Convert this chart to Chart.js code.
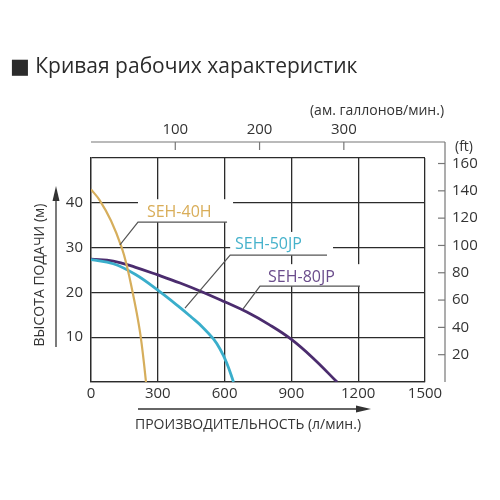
<!DOCTYPE html>
<html>
<head>
<meta charset="utf-8">
<script src="https://cdn.jsdelivr.net/npm/chart.js@4.4.1/dist/chart.umd.min.js"></script>
<style>
  html, body { margin: 0; padding: 0; background: #fff; }
  #wrap { width: 500px; height: 500px; }
</style>
</head>
<body>
<div id="wrap"><canvas id="pumpChart"></canvas></div>
<script>
// flow, l/min (bottom axis)
const flowTicks = [0, 300, 600, 900, 1200, 1500];
// head, m (left axis)
const headTicks = [0, 10, 20, 30, 40, 50];
// US gallons per minute (top axis)
const galTicks = [100, 200, 300];
// head in feet (right axis)
const ftTicks = [20, 40, 60, 80, 100, 120, 140, 160];

const curveNames = ["SEH-40H", "SEH-50JP", "SEH-80JP"];

const seh40hFlow = [0, 40, 90, 138, 163, 185, 205, 222, 236, 247];
const seh40hHead = [43, 40.5, 36, 30, 25.5, 20.5, 15.5, 10.5, 5, 0];

const seh50jpFlow = [0, 100, 200, 300, 400, 450, 500, 550, 580, 610, 640];
const seh50jpHead = [27.3, 26.4, 24.0, 20.5, 16.6, 14.5, 12.3, 9.6, 7.3, 4.2, 0];

const seh80jpFlow = [0, 100, 200, 300, 400, 500, 600, 700, 800, 900, 1000, 1105];
const seh80jpHead = [27.4, 27.0, 25.6, 23.9, 22.1, 20.1, 17.9, 15.6, 12.8, 9.5, 5.2, 0];

// where each curve name sits (flow, head) and its leader line
const labelSpots = [
  { at: [251, 37.9], leader: [[130, 30.6], [211, 35.7], [611, 35.7]] },
  { at: [647, 30.6], leader: [[422, 16.5], [625, 28.3], [1060, 28.3]] },
  { at: [795, 23.4], leader: [[683, 16.3], [759, 21.4], [1208, 21.4]] }
];

const LITRES_PER_GAL = 3.785;
const M_PER_FT = 0.3048;

const lineColors = ["#d6ae5c", "#3aaecb", "#4b2c6e"];
const textColors = ["#d9ad58", "#46b2cb", "#6b4d8c"];

function toPoints(xs, ys) {
  let pts = [];
  for (let i = 0; i < xs.length; i += 1) {
    pts.push({ x: xs[i], y: ys[i] });
  }
  return pts;
}

const FONT = "'Open Sans', 'DejaVu Sans', sans-serif";
const INK = "#333";

const decorPlugin = {
  id: "decor",
  afterDatasetsDraw(chart) {
    const { ctx, chartArea: area, scales } = chart;
    const x = scales.x, y = scales.y, x2 = scales.x2, y2 = scales.y2;
    ctx.save();

    // curve names with leaders
    labelSpots.forEach((spot, i) => {
      const pts = spot.leader.map(p => [x.getPixelForValue(p[0]), y.getPixelForValue(p[1])]);
      const tx = x.getPixelForValue(spot.at[0]);
      const ty = y.getPixelForValue(spot.at[1]);
      ctx.fillStyle = "#fff";
      ctx.fillRect(pts[1][0], ty - 13, pts[2][0] - pts[1][0] + 6, pts[1][1] - ty + 13);

      ctx.strokeStyle = "#555";
      ctx.lineWidth = 1.2;
      ctx.beginPath();
      ctx.moveTo(pts[0][0], pts[0][1]);
      ctx.lineTo(pts[1][0], pts[1][1]);
      ctx.lineTo(pts[2][0], pts[2][1]);
      ctx.stroke();

      ctx.fillStyle = textColors[i];
      ctx.font = "16px " + FONT;
      ctx.textAlign = "left";
      ctx.textBaseline = "middle";
      ctx.fillText(curveNames[i], tx, ty);
    });

    // top axis: US gallons / min, right axis: feet
    const topY = area.top - 16;
    const rightX = area.right + 20;
    ctx.strokeStyle = "#777";
    ctx.lineWidth = 1.2;
    ctx.beginPath();
    ctx.moveTo(area.left, topY);
    ctx.lineTo(rightX, topY);
    ctx.moveTo(rightX, topY);
    ctx.lineTo(rightX, area.bottom);
    ctx.stroke();

    ctx.fillStyle = INK;
    ctx.font = "15px " + FONT;
    ctx.textAlign = "center";
    ctx.textBaseline = "middle";
    galTicks.forEach(v => {
      const px = x2.getPixelForValue(v);
      ctx.beginPath();
      ctx.moveTo(px, topY);
      ctx.lineTo(px, topY + 8);
      ctx.stroke();
      ctx.fillText(String(v), px, topY - 12);
    });
    ctx.font = "14px " + FONT;
    ctx.fillText("(ам. галлонов/мин.)", 377, topY - 31);

    ctx.font = "15px " + FONT;
    ctx.textAlign = "left";
    ftTicks.forEach(v => {
      const py = y2.getPixelForValue(v);
      ctx.beginPath();
      ctx.moveTo(rightX - 7, py);
      ctx.lineTo(rightX, py);
      ctx.stroke();
      ctx.fillText(String(v), rightX + 7, py);
    });
    ctx.font = "14px " + FONT;
    ctx.fillText("(ft)", rightX + 10, topY + 5);

    // axis titles with arrows
    ctx.strokeStyle = INK;
    ctx.fillStyle = INK;
    ctx.lineWidth = 1.3;
    const ax = area.left - 35;
    ctx.beginPath();
    ctx.moveTo(ax, area.top + 189);
    ctx.lineTo(ax, area.top + 40);
    ctx.stroke();
    ctx.beginPath();
    ctx.moveTo(ax, area.top + 28);
    ctx.lineTo(ax - 3.5, area.top + 43);
    ctx.lineTo(ax + 3.5, area.top + 43);
    ctx.closePath();
    ctx.fill();

    ctx.save();
    ctx.translate(area.left - 51, area.top + 117);
    ctx.rotate(-Math.PI / 2);
    ctx.font = "14px " + FONT;
    ctx.textAlign = "center";
    ctx.fillText("ВЫСОТА ПОДАЧИ (м)", 0, 0);
    ctx.restore();

    const ay = area.bottom + 27;
    ctx.beginPath();
    ctx.moveTo(area.left + 47, ay);
    ctx.lineTo(area.left + 268, ay);
    ctx.stroke();
    ctx.beginPath();
    ctx.moveTo(area.left + 280, ay);
    ctx.lineTo(area.left + 265, ay - 3.5);
    ctx.lineTo(area.left + 265, ay + 3.5);
    ctx.closePath();
    ctx.fill();

    ctx.font = "14px " + FONT;
    ctx.textAlign = "center";
    ctx.fillText("ПРОИЗВОДИТЕЛЬНОСТЬ (л/мин.)", area.left + 157, area.bottom + 43);

    ctx.restore();
  }
};

Chart.defaults.font.family = FONT;
Chart.defaults.color = INK;

const headSets = [seh40hHead, seh50jpHead, seh80jpHead];
const datasets = [seh40hFlow, seh50jpFlow, seh80jpFlow].map((xs, i) => ({
  label: curveNames[i],
  data: toPoints(xs, headSets[i]),
  showLine: true,
  borderColor: lineColors[i],
  borderWidth: i === 0 ? 2.2 : 2.8,
  pointRadius: 0,
  tension: 0.4,
  fill: false
}));

const ctx = document.getElementById("pumpChart").getContext("2d");
const pumpChart = new Chart(ctx, {
  type: "scatter",
  data: { datasets: datasets },
  options: {
    responsive: true,
    maintainAspectRatio: false,
    animation: false,
    layout: { padding: { left: 10, top: 0, right: 75, bottom: 0 } },
    plugins: {
      legend: { display: false },
      tooltip: { enabled: false },
      title: {
        display: true,
        text: "■ Кривая рабочих характеристик",
        align: "start",
        color: "#2b2b2b",
        font: { size: 21, weight: "normal", lineHeight: 1.2 },
        padding: { top: 54, bottom: 78.8 }
      }
    },
    scales: {
      x: {
        type: "linear",
        position: "bottom",
        min: 0,
        max: 1500,
        afterBuildTicks: s => { s.ticks = flowTicks.map(v => ({ value: v })); },
        afterFit: s => { s.height = 118; },
        grid: { color: "#2b2b2b", lineWidth: 1.3, drawTicks: false },
        border: { display: true, color: "#2b2b2b", width: 1.3 },
        ticks: { padding: 3, font: { size: 15 }, color: INK, callback: v => String(v) }
      },
      y: {
        type: "linear",
        position: "left",
        min: 0,
        max: 50,
        afterBuildTicks: s => { s.ticks = headTicks.map(v => ({ value: v })); },
        afterFit: s => { s.width = 81; },
        grid: { color: "#2b2b2b", lineWidth: 1.3, drawTicks: false },
        border: { display: true, color: "#2b2b2b", width: 1.3 },
        ticks: {
          padding: 8,
          font: { size: 15 },
          color: INK,
          callback: v => (v === 0 || v === 50) ? "" : String(v)
        }
      },
      x2: {
        type: "linear",
        position: "top",
        display: false,
        min: 0,
        max: 1500 / LITRES_PER_GAL
      },
      y2: {
        type: "linear",
        position: "right",
        display: false,
        min: 0,
        max: 50 / M_PER_FT
      }
    }
  },
  plugins: [decorPlugin]
});
</script>
</body>
</html>
